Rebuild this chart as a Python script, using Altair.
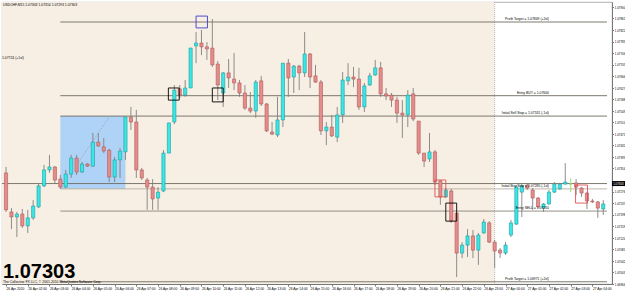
import altair as alt
import pandas as pd

# ---------------- candle data (USDCHF, M15) ----------------
opens = [1.07339, 1.07207, 1.07190, 1.07200, 1.07160, 1.07187, 1.07224, 1.07295, 1.07349, 1.07359,
         1.07318, 1.07291, 1.07335, 1.07389, 1.07342, 1.07369, 1.07362, 1.07443, 1.07427, 1.07416,
         1.07325, 1.07383, 1.07410, 1.07528, 1.07511, 1.07349, 1.07315, 1.07291, 1.07254, 1.07278,
         1.07406, 1.07511, 1.07623, 1.07602, 1.07626, 1.07768, 1.07778, 1.07765, 1.07761, 1.07707,
         1.07609, 1.07677, 1.07656, 1.07643, 1.07609, 1.07558, 1.07548, 1.07650, 1.07572, 1.07477,
         1.07467, 1.07518, 1.07710, 1.07663, 1.07700, 1.07677, 1.07741, 1.07667, 1.07646, 1.07481,
         1.07494, 1.07460, 1.07535, 1.07650, 1.07663, 1.07656, 1.07562, 1.07636, 1.07670, 1.07694,
         1.07606, 1.07602, 1.07585, 1.07541, 1.07535, 1.07606, 1.07514, 1.07406, 1.07386, 1.07410,
         1.07312, 1.07258, 1.07278, 1.07203, 1.07068, 1.07095, 1.07126, 1.07078, 1.07136, 1.07170,
         1.07105, 1.07078, 1.07068, 1.07129, 1.07166, 1.07274, 1.07298, 1.07281, 1.07254, 1.07220,
         1.07234, 1.07274, 1.07285, 1.07301, 1.07301, 1.07305, 1.07288, 1.07271, 1.07244, 1.07241,
         1.07217]
closes = [1.07214, 1.07190, 1.07200, 1.07160, 1.07187, 1.07227, 1.07295, 1.07349, 1.07359, 1.07315,
          1.07291, 1.07335, 1.07389, 1.07342, 1.07369, 1.07362, 1.07443, 1.07430, 1.07413, 1.07325,
          1.07383, 1.07413, 1.07528, 1.07511, 1.07349, 1.07322, 1.07291, 1.07251, 1.07274, 1.07406,
          1.07508, 1.07619, 1.07602, 1.07626, 1.07761, 1.07778, 1.07765, 1.07758, 1.07704, 1.07636,
          1.07677, 1.07660, 1.07643, 1.07609, 1.07558, 1.07548, 1.07646, 1.07572, 1.07481, 1.07470,
          1.07518, 1.07710, 1.07660, 1.07700, 1.07677, 1.07741, 1.07663, 1.07646, 1.07481, 1.07494,
          1.07464, 1.07535, 1.07653, 1.07663, 1.07656, 1.07562, 1.07633, 1.07667, 1.07694, 1.07606,
          1.07599, 1.07585, 1.07541, 1.07535, 1.07602, 1.07521, 1.07406, 1.07379, 1.07410, 1.07308,
          1.07258, 1.07281, 1.07176, 1.07068, 1.07095, 1.07126, 1.07078, 1.07129, 1.07173, 1.07105,
          1.07075, 1.07068, 1.07095, 1.07170, 1.07291, 1.07295, 1.07288, 1.07254, 1.07224, 1.07234,
          1.07274, 1.07301, 1.07301, 1.07308, 1.07301, 1.07291, 1.07271, 1.07244, 1.07241, 1.07220,
          1.07234]
highs = [1.07359, 1.07220, 1.07207, 1.07217, 1.07214, 1.07247, 1.07305, 1.07366, 1.07400, 1.07362,
         1.07332, 1.07349, 1.07400, 1.07400, 1.07376, 1.07372, 1.07474, 1.07474, 1.07457, 1.07420,
         1.07393, 1.07423, 1.07528, 1.07562, 1.07552, 1.07356, 1.07322, 1.07318, 1.07291, 1.07416,
         1.07508, 1.07636, 1.07636, 1.07653, 1.07761, 1.07815, 1.07822, 1.07781, 1.07859, 1.07717,
         1.07680, 1.07724, 1.07744, 1.07653, 1.07636, 1.07612, 1.07653, 1.07667, 1.07575, 1.07511,
         1.07596, 1.07710, 1.07724, 1.07704, 1.07704, 1.07815, 1.07744, 1.07704, 1.07653, 1.07511,
         1.07535, 1.07562, 1.07680, 1.07710, 1.07697, 1.07694, 1.07643, 1.07677, 1.07721, 1.07714,
         1.07626, 1.07609, 1.07596, 1.07585, 1.07619, 1.07626, 1.07514, 1.07406, 1.07474, 1.07416,
         1.07315, 1.07288, 1.07285, 1.07203, 1.07105, 1.07149, 1.07146, 1.07136, 1.07183, 1.07176,
         1.07112, 1.07085, 1.07105, 1.07180, 1.07298, 1.07305, 1.07305, 1.07288, 1.07258, 1.07237,
         1.07281, 1.07308, 1.07305, 1.07372, 1.07322, 1.07318, 1.07291, 1.07274, 1.07251, 1.07244,
         1.07247]
lows = [1.07207, 1.07149, 1.07122, 1.07153, 1.07136, 1.07180, 1.07220, 1.07291, 1.07339, 1.07305,
        1.07285, 1.07288, 1.07322, 1.07332, 1.07339, 1.07359, 1.07359, 1.07427, 1.07406, 1.07308,
        1.07308, 1.07322, 1.07383, 1.07484, 1.07322, 1.07315, 1.07214, 1.07214, 1.07214, 1.07274,
        1.07406, 1.07504, 1.07592, 1.07596, 1.07626, 1.07710, 1.07737, 1.07721, 1.07697, 1.07585,
        1.07562, 1.07626, 1.07619, 1.07596, 1.07552, 1.07541, 1.07525, 1.07565, 1.07477, 1.07467,
        1.07460, 1.07494, 1.07596, 1.07609, 1.07619, 1.07663, 1.07626, 1.07643, 1.07467, 1.07433,
        1.07460, 1.07443, 1.07508, 1.07636, 1.07629, 1.07552, 1.07545, 1.07633, 1.07667, 1.07596,
        1.07585, 1.07562, 1.07508, 1.07457, 1.07494, 1.07514, 1.07400, 1.07359, 1.07376, 1.07298,
        1.07231, 1.07254, 1.07170, 1.06987, 1.07051, 1.07055, 1.07051, 1.07028, 1.07133, 1.07102,
        1.07018, 1.07051, 1.07062, 1.07122, 1.07163, 1.07190, 1.07281, 1.07214, 1.07220, 1.07207,
        1.07231, 1.07271, 1.07281, 1.07301, 1.07274, 1.07264, 1.07258, 1.07217, 1.07237, 1.07187,
        1.07197]

# ---------------- axis labels ----------------
time_labels = ["26 Apr 2010", "26 Apr 02:00", "26 Apr 03:00", "26 Apr 04:00", "26 Apr 05:00",
               "26 Apr 06:00", "26 Apr 07:00", "26 Apr 08:00", "26 Apr 09:00", "26 Apr 10:00",
               "26 Apr 11:00", "26 Apr 12:00", "26 Apr 13:00", "26 Apr 14:00", "26 Apr 15:00",
               "26 Apr 16:00", "26 Apr 17:00", "26 Apr 18:00", "26 Apr 19:00", "26 Apr 20:00",
               "26 Apr 21:00", "26 Apr 22:00", "26 Apr 23:00", "27 Apr 00:00", "27 Apr 01:00",
               "27 Apr 02:00", "27 Apr 03:00", "27 Apr 04:00"]
time_ticks = [4 * k for k in range(len(time_labels))]
price_ticks = [1.07900, 1.07861, 1.07822, 1.07783, 1.07744, 1.07705, 1.07666, 1.07627,
               1.07588, 1.07549, 1.07510, 1.07471, 1.07432, 1.07393, 1.07354, 1.07276,
               1.07237, 1.07198, 1.07159, 1.07120, 1.07081, 1.07042, 1.07003, 1.06964]

# ---------------- annotations ----------------
level_prices = [1.07849, 1.07600, 1.07531, 1.07285, 1.07210, 1.06971]
level_labels = ["Profit Target = 1.07849 (+2sl)", "Entry BUY = 1.07600",
                "Initial Sell Stop = 1.07531 (-1sl)", "Initial Buy Stop = 1.07285 (-1sl)",
                "Entry SELL = 1.07210", "Profit Target = 1.06971 (+2sl)"]
level_colors = ["#6e6b60", "#6e6b60", "#6e6b60", "#b8b0a2", "#8a867a", "#6e6b60"]
level_start = 10
label_end = 100
bid_price = 1.07303
bid_text = "1.07303"
separator_index = 90

zone_rect = {"x": 10, "x2": 22, "y": 1.07531, "y2": 1.07285}
trend = {"i": [13.4, 19.0], "p": [1.07376, 1.07528]}
box_x = [29.9, 38.0, 81.0, 35.0, 79.0, 104.9]
box_x2 = [31.9, 40.0, 83.0, 37.1, 81.0, 107.1]
box_y = [1.07626, 1.07626, 1.07237, 1.07869, 1.07315, 1.07298]
box_y2 = [1.07585, 1.07579, 1.07176, 1.07829, 1.07258, 1.07237]
box_color = ["#000000", "#000000", "#000000", "#3c3cc8", "#e05050", "#e05050"]

n = len(opens)
kinds = ["up" if c > o else ("down" if c < o else "doji") for o, c in zip(opens, closes)]
fill_map = {"up": "#3ae6e6", "down": "#e58c8c", "doji": "#9bdc6c"}
edge_map = {"up": "#1f9e9e", "down": "#b05858", "doji": "#9bdc6c"}
wick_map = {"up": "#808080", "down": "#808080", "doji": "#9bdc6c"}
df = pd.DataFrame({"i": list(range(n)), "open": opens, "high": highs,
                   "low": lows, "close": closes})
df["fill"] = [fill_map[k] for k in kinds]
df["edge"] = [edge_map[k] for k in kinds]
df["wick"] = [wick_map[k] for k in kinds]

X_DOM = [0.18, 110.69]
Y_DOM = [1.069635, 1.079166]
xs = alt.Scale(domain=X_DOM, nice=False, zero=False)
ys = alt.Scale(domain=Y_DOM, nice=False, zero=False)

FONT = "Liberation Sans"
FS = 3.4

label_expr = "[" + ",".join("'" + s + "'" for s in time_labels) + "][round(datum.value/4)]"

x_axis = alt.Axis(values=time_ticks, labelExpr=label_expr, labelAlign="left", labelFontSize=3.3,
                  labelFont=FONT, labelColor="#000000", tickSize=2, tickColor="#777777",
                  domainColor="#777777", labelPadding=0.5, grid=False, title=None,
                  labelOverlap=False, labelFlush=False, labelBaseline="top")
y_axis = alt.Axis(values=price_ticks, format=".5f", orient="right", labelFontSize=2.9,
                  labelFont=FONT, labelColor="#000000", tickSize=1.5, tickColor="#777777",
                  domainColor="#777777", labelPadding=0.8, grid=False, title=None,
                  labelOverlap=False, labelFlush=False)


def X(field):
    return alt.X(field, scale=xs, axis=x_axis)


def Y(field):
    return alt.Y(field, scale=ys, axis=y_axis)


# beige background region
bg_df = pd.DataFrame({"x": [-5], "x2": [separator_index], "y": [Y_DOM[0]], "y2": [Y_DOM[1]]})
bg = alt.Chart(bg_df).mark_rect(color="#f8efe4", clip=True).encode(
    x=X("x:Q"), x2="x2:Q", y=Y("y:Q"), y2="y2:Q")

sep = alt.Chart(pd.DataFrame({"x": [separator_index]})).mark_rule(
    color="#a8a8a8", strokeDash=[1, 1], strokeWidth=0.8, clip=True).encode(x=X("x:Q"))

zone = alt.Chart(pd.DataFrame([zone_rect])).mark_rect(color="#a6cff7", opacity=0.9, clip=True).encode(
    x=X("x:Q"), x2="x2:Q", y=Y("y:Q"), y2="y2:Q")

trend_line = alt.Chart(pd.DataFrame(trend)).mark_line(
    color="#9a9aa8", strokeDash=[1, 1], strokeWidth=0.8, clip=True).encode(
    x=X("i:Q"), y=Y("p:Q"))

lv_df = pd.DataFrame({"p": level_prices, "label": level_labels, "c": level_colors,
                      "x": [level_start] * len(level_prices), "x2": [X_DOM[1]] * len(level_prices),
                      "lx": [label_end] * len(level_prices)})
levels = alt.Chart(lv_df).mark_rule(strokeWidth=0.9, clip=True).encode(
    x=X("x:Q"), x2="x2:Q", y=Y("p:Q"), color=alt.Color("c:N", scale=None))
level_text = alt.Chart(lv_df).mark_text(align="right", baseline="bottom", dy=-0.6,
                                        fontSize=FS, font=FONT, color="#000000").encode(
    x=X("lx:Q"), y=Y("p:Q"), text="label:N")

bid_df = pd.DataFrame({"p": [bid_price], "x": [X_DOM[0] - 1], "x2": [X_DOM[1]], "t": [bid_text]})
bid_line = alt.Chart(bid_df).mark_rule(color="#6e6b60", strokeWidth=0.9, clip=True).encode(
    x=X("x:Q"), x2="x2:Q", y=Y("p:Q"))
bid_box = alt.Chart(bid_df).mark_rect(color="#000000", height=5).encode(
    x=alt.value(610), x2=alt.value(623), y=Y("p:Q"))
bid_label = alt.Chart(bid_df).mark_text(align="left", baseline="middle", fontSize=2.9, font=FONT,
                                        color="#ffffff").encode(
    x=alt.value(611.2), y=Y("p:Q"), text="t:N")

wicks = alt.Chart(df).mark_rule(strokeWidth=0.9, clip=True).encode(
    x=X("i:Q"), y=Y("low:Q"), y2="high:Q", color=alt.Color("wick:N", scale=None))
bodies = alt.Chart(df).mark_bar(size=3.2, strokeWidth=0.6, clip=True).encode(
    x=X("i:Q"), y=Y("open:Q"), y2="close:Q",
    fill=alt.Fill("fill:N", scale=None), stroke=alt.Stroke("edge:N", scale=None))

box_df = pd.DataFrame({"x": box_x, "x2": box_x2, "y": box_y, "y2": box_y2, "c": box_color})
boxes = alt.Chart(box_df).mark_rect(fillOpacity=0, strokeWidth=0.9, clip=True).encode(
    x=X("x:Q"), x2="x2:Q", y=Y("y:Q"), y2="y2:Q", stroke=alt.Stroke("c:N", scale=None))

title_txt = alt.Chart(pd.DataFrame({"t": ["USDCHF,M15  1.07303 1.07314 1.07293 1.07303"]})).mark_text(
    align="left", baseline="top", fontSize=FS, font=FONT, color="#000000").encode(
    x=alt.value(1), y=alt.value(1), text="t:N")
side_txt = alt.Chart(pd.DataFrame({"t": ["1.07724 (+1sl)"]})).mark_text(
    align="left", baseline="middle", fontSize=FS, font=FONT, color="#000000").encode(
    x=alt.value(0), y=alt.value(56), text="t:N")
big_txt = alt.Chart(pd.DataFrame({"t": [bid_text]})).mark_text(
    align="left", baseline="alphabetic", fontSize=20, fontWeight="bold", font=FONT,
    color="#000000").encode(x=alt.value(1), y=alt.value(275.5), text="t:N")
copy_txt = alt.Chart(pd.DataFrame({"t": ["The Collective FX LLC, \u00a9 2001-2010 MetaQuotes Software Corp."]})).mark_text(
    align="left", baseline="bottom", fontSize=FS, font=FONT, color="#000000").encode(
    x=alt.value(1), y=alt.value(282), text="t:N")

chart = alt.layer(bg, sep, zone, trend_line, levels, bid_line, wicks, bodies, boxes, level_text,
                  bid_box, bid_label, title_txt, side_txt, big_txt, copy_txt).properties(
    width=610, height=282,
    padding={"left": 2, "top": 2, "right": 13, "bottom": 7},
    autosize=alt.AutoSizeParams(type="none"),
    background="#ffffff",
).configure_view(stroke="#a0a0a0", strokeWidth=0.8)

chart.save("out.html", embed_options={"renderer": "svg", "actions": False})
